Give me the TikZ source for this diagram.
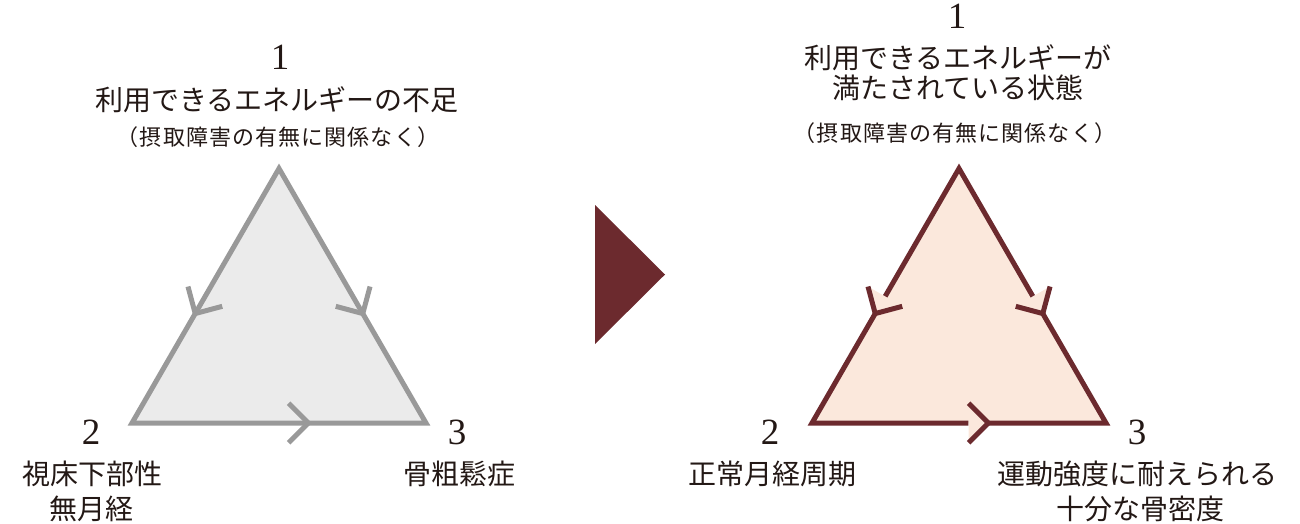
\documentclass[tikz,border=0pt]{standalone}
\usepackage{fontspec}
\newfontfamily\cjk{Noto Sans CJK JP}
\newfontfamily\numfont{Liberation Serif}
\usetikzlibrary{calc}
\definecolor{txt}{HTML}{231815}
\definecolor{graystroke}{HTML}{999999}
\definecolor{grayfill}{HTML}{EBEBEB}
\definecolor{wine}{HTML}{6C2A2E}
\definecolor{peach}{HTML}{FBE8DC}
\begin{document}
\begin{tikzpicture}[x=1pt,y=-1pt,
  num/.style={anchor=base, inner sep=0pt, text=txt, font=\numfont\fontsize{37}{37}\selectfont},
  jp/.style={anchor=base, inner sep=0pt, text=txt, font=\cjk\fontsize{28}{28}\selectfont},
  jpsub/.style={anchor=base, inner sep=0pt, text=txt, font=\cjk\fontsize{22}{22}\selectfont\addfontfeature{LetterSpace=5}},
  edgeline/.style={line width=5pt, line join=miter, line cap=butt},
]
\useasboundingbox (0,0) rectangle (1300,523);

% ---------- left triangle ----------
\coordinate (LA) at (279,168.5);
\coordinate (LB) at (132,423);
\coordinate (LC) at (426,423);
\filldraw[fill=grayfill, draw=graystroke, edgeline] (LA) -- (LB) -- (LC) -- cycle;
\coordinate (L12) at ($(LA)!0.57!(LB)$);
\coordinate (L13) at ($(LA)!0.57!(LC)$);
\coordinate (L23) at ($(LB)!0.6!(LC)$);
\foreach \t/\f in {L12/LA, L13/LA, L23/LB}{
  \draw[graystroke, edgeline] ($(\t)!28pt!45:(\f)$) -- (\t) -- ($(\t)!28pt!-45:(\f)$);
}

% ---------- middle arrow ----------
\coordinate (M1) at (595,205);
\coordinate (M2) at (595,344);
\coordinate (M3) at (665,274.5);
\fill[wine] (M1) -- (M2) -- (M3) -- cycle;

% ---------- right triangle ----------
\coordinate (RA) at (959,168.5);
\coordinate (RB) at (812,423);
\coordinate (RC) at (1106,423);
\fill[peach] (RA) -- (RB) -- (RC) -- cycle;
\coordinate (R12) at ($(RA)!0.57!(RB)$);
\coordinate (R13) at ($(RA)!0.57!(RC)$);
\coordinate (R23) at ($(RB)!0.6!(RC)$);
\foreach \t/\f in {R12/RA, R13/RA, R23/RB}{
  \fill[peach] ($(\t)!28pt!45:(\f)$) -- (\t) -- ($(\t)!28pt!-45:(\f)$) -- cycle;
}
\draw[wine, edgeline] ($(R12)!20pt!(RA)$) -- (RA) -- ($(R13)!20pt!(RA)$);
\draw[wine, edgeline] (R12) -- (RB) -- ($(R23)!20pt!(RB)$);
\draw[wine, edgeline] (R23) -- (RC) -- (R13);
\foreach \t/\f in {R12/RA, R13/RA, R23/RB}{
  \draw[wine, edgeline] ($(\t)!28pt!45:(\f)$) -- (\t) -- ($(\t)!28pt!-45:(\f)$);
}

% ---------- left texts ----------
\node[num] (l1) at (280,69) {1};
\node[jp] (l1a) at (277,110) {利用できるエネルギーの不足};
\node[jpsub] (l1b) at (278,145) {（摂取障害の有無に関係なく）};
\node[num] (l2) at (91,444) {2};
\node[jp] (l2a) at (92,484) {視床下部性};
\node[jp] (l2b) at (91,519) {無月経};
\node[num] (l3) at (457,444) {3};
\node[jp] (l3a) at (459,484) {骨粗鬆症};

% ---------- right texts ----------
\node[num] (r1) at (957,28) {1};
\node[jp] (r1a) at (958,68) {利用できるエネルギーが};
\node[jp] (r1b) at (958,98) {満たされている状態};
\node[jpsub] (r1c) at (955,141) {（摂取障害の有無に関係なく）};
\node[num] (r2) at (770,444) {2};
\node[jp] (r2a) at (772,484) {正常月経周期};
\node[num] (r3) at (1137,444) {3};
\node[jp] (r3a) at (1137,484) {運動強度に耐えられる};
\node[jp] (r3b) at (1140,519) {十分な骨密度};
\end{tikzpicture}
\end{document}
